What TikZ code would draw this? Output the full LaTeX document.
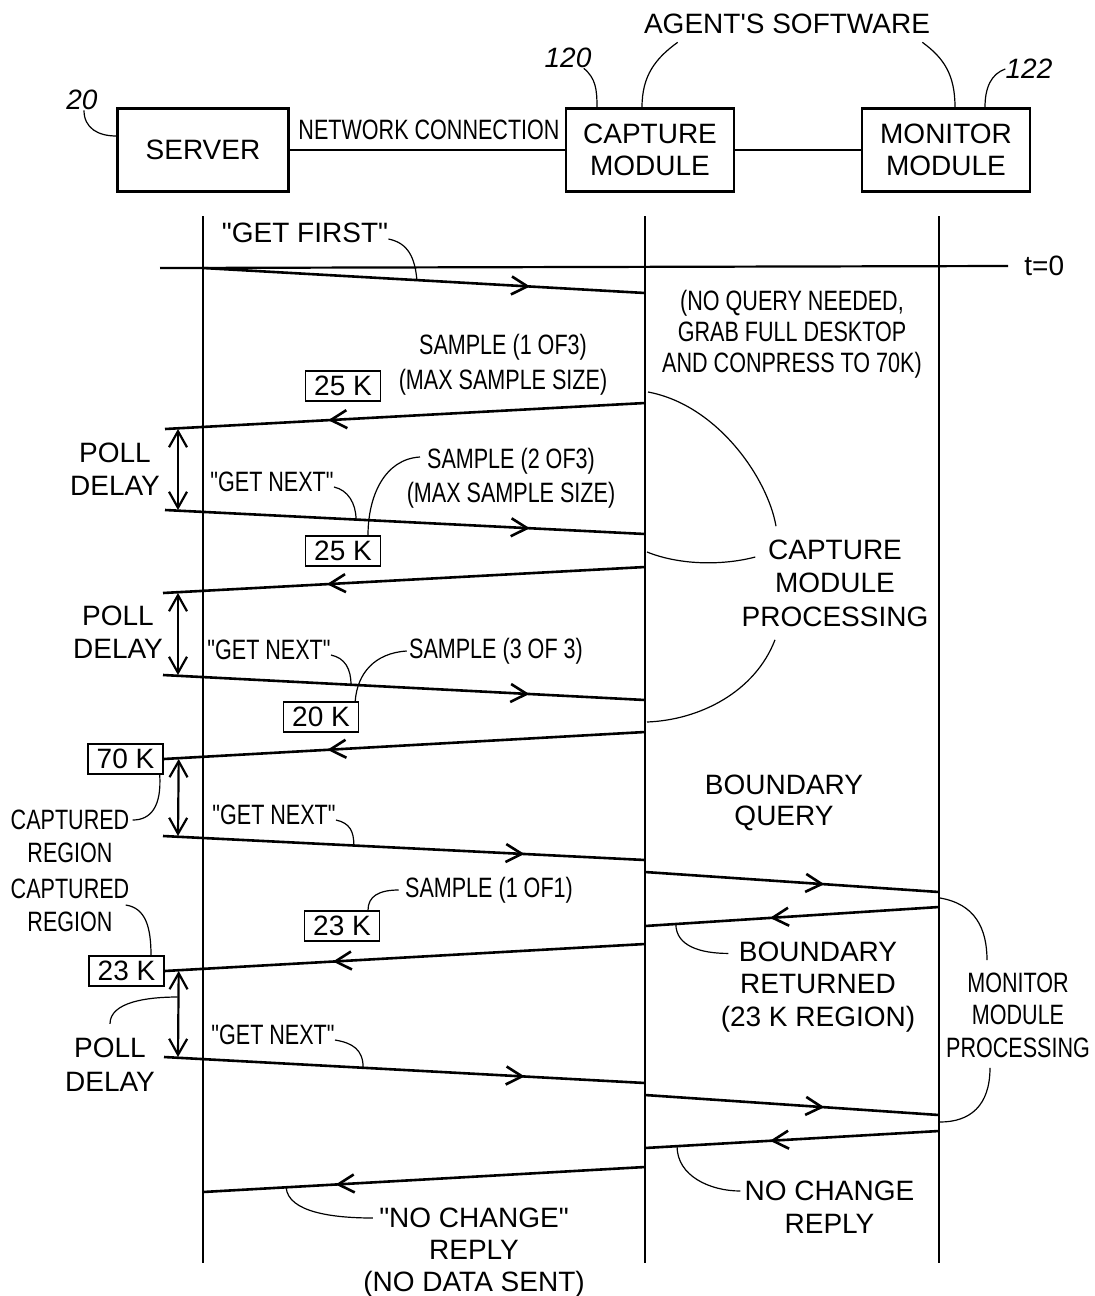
\documentclass[tikz,border=0pt]{standalone}
\usepackage{fontspec}
\setmainfont{Liberation Sans}
\newfontfamily\narrowfont{Liberation Sans}[FakeStretch=0.77]
\usetikzlibrary{arrows.meta,decorations.markings,calc}

\tikzset{
  module/.style={draw,line width=1.2pt,minimum width=84pt,minimum height=41.5pt,inner sep=0pt,align=center,font=\fontsize{14}{16}\selectfont},
  life/.style={line width=1.1pt},
  msg/.style={line width=1.3pt},
  tipat/.style={postaction={decorate},decoration={markings,mark=at position #1 with {\arrow{>}}}},
  delay/.style={line width=1.1pt,<->},
  lead/.style={line width=0.6pt},
  txt/.style={inner sep=0pt,align=center,font=\fontsize{14}{16.5}\selectfont},
  ntxt/.style={inner sep=0pt,align=center,font=\narrowfont\fontsize{14}{16.5}\selectfont},
  kbox/.style={draw,line width=0.7pt,inner sep=0pt,minimum width=37.5pt,minimum height=15pt,font=\fontsize{14}{16}\selectfont},
  refnum/.style={inner sep=0pt,font=\itshape\fontsize{14}{16}\selectfont}
}

\begin{document}
\begin{tikzpicture}[x=0.5pt,y=-0.5pt,>={Straight Barb[length=8pt,width=9pt]}]
\useasboundingbox (0,0) rectangle (1095,1296);

% modules
\node[module,minimum width=85.5pt] (server) at (203,150) {SERVER};
\node[module] (capture) at (650,150) {CAPTURE\\MODULE};
\node[module] (monitor) at (946,150) {MONITOR\\MODULE};
\draw[life] (server) -- (capture);
\draw[life] (capture) -- (monitor);
\node[ntxt] (netconn) at (429,130) {NETWORK CONNECTION};

\node[refnum] (r20) at (82,100) {20};
\node[refnum] (r120) at (568,58) {120};
\node[refnum] (r122) at (1029,69) {122};
\node[txt] (agent) at (787,24) {AGENT\textquotesingle S SOFTWARE};
\draw[lead] ([xshift=1pt]r20.south) .. controls +(0,18) and +(-18,0) .. ([yshift=7pt]server.west);
\draw[lead] ([xshift=-4pt]r120.south east) .. controls +(12,10) and +(0,-18) .. ([xshift=-26.5pt]capture.north);
\draw[lead] ([shift={(34,8)}]agent.south west) .. controls +(-22,16) and +(0,-32) .. ([xshift=-4pt]capture.north);
\draw[lead] ([shift={(-8,8)}]agent.south east) .. controls +(22,16) and +(0,-32) .. ([xshift=4.5pt]monitor.north);
\draw[lead] (r122.west) .. controls +(-14,5) and +(0,-20) .. ([xshift=19.5pt]monitor.north);

% lifelines
\coordinate (sT) at (203,216); \coordinate (sB) at (203,1263);
\coordinate (cT) at (645,216); \coordinate (cB) at (645,1263);
\coordinate (mT) at (939,216); \coordinate (mB) at (939,1263);
\draw[life] (sT) -- (sB);
\draw[life] (cT) -- (cB);
\draw[life] (mT) -- (mB);

\coordinate (t0L) at (160,268);
\node[txt,anchor=west] (tzero) at (1024,266) {t=0};
\draw[life] (t0L) -- ([xshift=-8pt]tzero.west);

% messages
\coordinate (g0a) at (203,268);  \coordinate (g0b) at (645,293);
\coordinate (r1a) at (645,403);  \coordinate (r1b) at (165,429);
\coordinate (g1a) at (165,510);  \coordinate (g1b) at (645,534);
\coordinate (r2a) at (645,567);  \coordinate (r2b) at (163,593);
\coordinate (g2a) at (163,675);  \coordinate (g2b) at (645,700);
\coordinate (r3a) at (645,732);
\coordinate (g3a) at (163,836);  \coordinate (g3b) at (645,860);
\coordinate (q1a) at (645,872);  \coordinate (q1b) at (939,892);
\coordinate (b1a) at (939,907);  \coordinate (b1b) at (645,926);
\coordinate (r4a) at (645,944);
\coordinate (g4a) at (164,1057); \coordinate (g4b) at (645,1083);
\coordinate (q2a) at (645,1095); \coordinate (q2b) at (939,1115);
\coordinate (b2a) at (939,1131); \coordinate (b2b) at (645,1148);
\coordinate (r5a) at (645,1167); \coordinate (r5b) at (203,1192);

\node[kbox] (k70) at (125.5,759) {70 K};
\node[kbox] (k23a) at (126.5,971) {23 K};

\draw[msg,tipat=0.74] (g0a) -- (g0b);
\draw[msg,tipat=0.66] (r1a) -- (r1b);
\draw[msg,tipat=0.76] (g1a) -- (g1b);
\draw[msg,tipat=0.66] (r2a) -- (r2b);
\draw[msg,tipat=0.76] (g2a) -- (g2b);
\draw[msg,tipat=0.66] (r3a) -- (k70.east);
\draw[msg,tipat=0.75] (g3a) -- (g3b);
\draw[msg,tipat=0.61] (q1a) -- (q1b);
\draw[msg,tipat=0.575] (b1a) -- (b1b);
\draw[msg,tipat=0.65] (r4a) -- (k23a.east);
\draw[msg,tipat=0.75] (g4a) -- (g4b);
\draw[msg,tipat=0.61] (q2a) -- (q2b);
\draw[msg,tipat=0.575] (b2a) -- (b2b);
\draw[msg,tipat=0.7] (r5a) -- (r5b);

% poll delays
\draw[delay] ([xshift=6.5pt]r1b) -- ([xshift=6.5pt]g1a);
\draw[delay] ([xshift=7.5pt]r2b) -- ([xshift=7.5pt]g2a);
\draw[delay] ([xshift=7.5pt]k70.east) -- ([xshift=7.5pt]g3a);
\draw[delay] ([xshift=7pt]k23a.east) -- ([xshift=7pt]g4a);

% left side labels
\node[txt] (getfirst) at (305,233) {\textquotedbl GET FIRST\textquotedbl};
\draw[lead] ([yshift=-3pt]getfirst.east) .. controls +(20,4) and +(-2,-22) .. ($(g0a)!0.484!(g0b)$);

\node[ntxt] (spl1) at (503,365) {SAMPLE (1 OF3)\\[1pt](MAX SAMPLE SIZE)};
\node[kbox] (k25a) at (343,386) {25 K};

\node[txt] (poll1) at (115,469) {POLL\\DELAY};
\node[ntxt] (getnext1) at (272,482) {"GET NEXT"};
\draw[lead] ([yshift=-2.5pt]getnext1.east) .. controls +(14,3) and +(0,-16) .. ($(g1a)!0.398!(g1b)$);
\node[ntxt] (spl2) at (511,478) {SAMPLE (2 OF3)\\[0.5pt](MAX SAMPLE SIZE)};
\node[kbox] (k25b) at (343,551) {25 K};
\coordinate (spl2L) at (420,457);
\draw[lead] (spl2L) .. controls +(-35,2) and +(0,-40) .. ([xshift=12.5pt]k25b.north);

\node[txt] (poll2) at (118,632) {POLL\\DELAY};
\node[ntxt] (getnext2) at (269,650) {"GET NEXT"};
\draw[lead] ([yshift=-2.5pt]getnext2.east) .. controls +(14,3) and +(0,-16) .. ($(g2a)!0.39!(g2b)$);
\node[ntxt] (spl3) at (496,651) {SAMPLE (3 OF 3)};
\node[kbox] (k20) at (321,717) {20 K};
\draw[lead] ([xshift=-1pt]spl3.west) .. controls +(-32,2) and +(2,-28) .. ([xshift=-2pt]k20.north east);

\node[ntxt] (cap1) at (70,836) {CAPTURED\\REGION};
\draw[lead] ([xshift=-2pt]k70.south east) .. controls +(2,32) and +(18,0) .. ([shift={(3,-16)}]cap1.east);
\node[ntxt] (getnext3) at (274,815) {"GET NEXT"};
\draw[lead] ([yshift=-2.5pt]getnext3.east) .. controls +(14,3) and +(0,-14) .. ($(g3a)!0.396!(g3b)$);

\node[ntxt] (spl4) at (489,890) {SAMPLE (1 OF1)};
\node[kbox] (k23b) at (342,926) {23 K};
\draw[lead] ([xshift=-3pt]spl4.west) .. controls +(-20,0) and +(0,-14) .. ([xshift=13pt]k23b.north);
\node[ntxt] (cap2) at (70,905) {CAPTURED\\REGION};
\draw[lead] ([xshift=-2pt]cap2.east) .. controls +(20,3) and +(0,-28) .. ([xshift=12.25pt]k23a.north);
\node[txt] (poll4) at (110,1065) {POLL\\[0.5pt]DELAY};
\draw[lead] ([yshift=7pt]poll4.north) .. controls +(0,-22) and +(-30,0) .. ($(k23a.east)+(13,26)$);
\node[ntxt] (getnext4) at (273,1035) {"GET NEXT"};
\draw[lead] ([yshift=-2.5pt]getnext4.east) .. controls +(18,3) and +(0,-18) .. ($(g4a)!0.414!(g4b)$);

% right side labels
\node[ntxt,font=\narrowfont\fontsize{14}{15.5}\selectfont] (noquery) at (792,334) {(NO QUERY NEEDED,\\GRAB FULL DESKTOP\\AND CONPRESS TO 70K)};
\node[txt,font=\fontsize{14}{16.75}\selectfont] (cproc) at (835,583) {CAPTURE\\MODULE\\PROCESSING};
\draw[lead] ($(r1a)+(3,-11)$) .. controls +(70,13) and +(-8,-47) .. ([shift={(-59,-13)}]cproc.north);
\draw[lead] ($(r2a)+(2,-15)$) .. controls +(35,14) and +(-30,8) .. ([shift={(14,-26)}]cproc.west);
\draw[lead] ([shift={(-60,13)}]cproc.south) .. controls +(-20,52) and +(53,-2) .. ($(r3a)+(2,-10)$);

\node[txt,font=\fontsize{14}{15.5}\selectfont] (bquery) at (784,803) {BOUNDARY\\QUERY};
\node[txt,font=\fontsize{14}{16.25}\selectfont] (bret) at (818,987) {BOUNDARY\\RETURNED\\(23 K REGION)};
\draw[lead] ($(b1a)!0.895!(b1b)$) .. controls +(0,22) and +(-28,0) .. ([shift={(8,12)}]bret.north west);
\node[ntxt,font=\narrowfont\fontsize{14}{16.25}\selectfont] (mproc) at (1018,1015) {MONITOR\\MODULE\\PROCESSING};
\draw[lead] ($(q1b)+(1,6)$) .. controls +(35,6) and +(0,-32) .. ([shift={(-31,-12)}]mproc.north);
\draw[lead] ([shift={(-28,10)}]mproc.south) .. controls +(0,38) and +(30,0) .. ($(q2b)+(1,7)$);

\node[txt] (ncreply) at (829.5,1207) {NO CHANGE\\REPLY};
\draw[lead] ($(b2a)!0.891!(b2b)$) .. controls +(0,30) and +(-30,0) .. ([shift={(-4,-16)}]ncreply.west);
\node[txt,font=\fontsize{14}{16}\selectfont] (ncsent) at (474,1253) {\textquotedbl NO CHANGE\textquotedbl\\REPLY\\(NO DATA SENT)};
\draw[lead] ($(r5a)!0.812!(r5b)$) .. controls +(2,25) and +(-40,0) .. ([shift={(10,-35)}]ncsent.west);
\end{tikzpicture}
\end{document}
